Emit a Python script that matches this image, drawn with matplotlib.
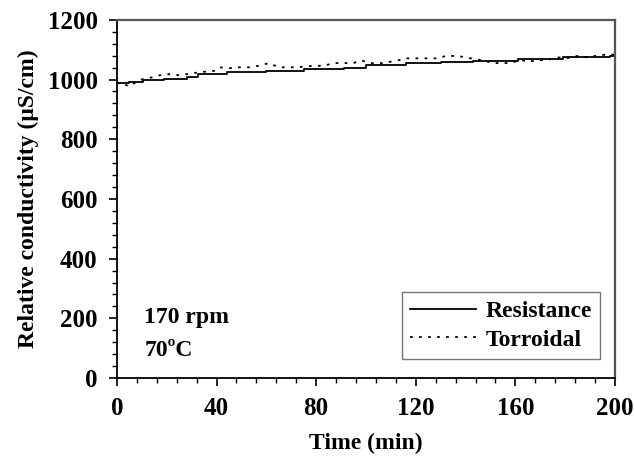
import matplotlib.pyplot as plt
from matplotlib.ticker import MultipleLocator

plt.rcParams['font.family'] = 'Liberation Serif'
plt.rcParams['font.weight'] = 'bold'

# Resistance probe (step-like readings)
t_res = [0, 5, 10.5, 19, 28, 32.5, 44, 60, 75, 91, 100, 116, 130, 143, 161, 179, 198, 200]
c_res = [988, 991, 997, 1002, 1010, 1018, 1026, 1030, 1035, 1040, 1049, 1055, 1060, 1062, 1068, 1074, 1079, 1080]

# Toroidal probe
t_tor = [0, 1, 5, 9, 13, 17, 21, 25, 28, 32, 35, 39, 41, 45, 49, 53, 57, 61, 65, 72,
         79, 83, 87, 95, 98, 102, 107, 110, 114, 116, 122, 125, 129, 132, 137, 140,
         147, 151, 158, 162, 165, 169, 173, 177, 181, 185, 189, 192, 196, 200]
c_tor = [985, 990, 977, 999, 1005, 1014, 1018, 1014, 1018, 1023, 1026, 1029, 1041, 1038, 1041, 1041, 1046, 1055, 1041, 1041,
         1046, 1046, 1055, 1055, 1064, 1055, 1055, 1060, 1066, 1071, 1071, 1071, 1071, 1079, 1079, 1074,
         1064, 1055, 1055, 1066, 1060, 1064, 1066, 1074, 1072, 1079, 1074, 1079, 1083, 1083]

fig = plt.figure(figsize=(6.34, 4.61), dpi=100)
ax = fig.add_axes([0.1845, 0.180, 0.7855, 0.777])

ax.plot(t_res, c_res, color='black', linewidth=1.3, drawstyle='steps-post', label='Resistance')
ax.plot(t_tor, c_tor, color='black', linewidth=1.3, linestyle=(0, (1.5, 3.5)), label='Torroidal')

ax.set_xlim(0, 200)
ax.set_ylim(0, 1200)
ax.xaxis.set_major_locator(MultipleLocator(40))
ax.xaxis.set_minor_locator(MultipleLocator(8))
ax.yaxis.set_major_locator(MultipleLocator(200))
ax.yaxis.set_minor_locator(MultipleLocator(40))
ax.tick_params(which='major', direction='out', length=6, width=1.2, labelsize=18, pad=8)
ax.tick_params(which='minor', direction='out', length=3.5, width=1.0)

for s in ['left', 'bottom']:
    ax.spines[s].set_linewidth(1.3)
for s in ['top', 'right']:
    ax.spines[s].set_color('#555555')
    ax.spines[s].set_linewidth(1.6)

ax.set_xlabel('Time (min)', fontsize=17, fontweight='bold', labelpad=9)
ax.set_ylabel('Relative conductivity (\u03bcS/cm)', fontsize=17, fontweight='bold', labelpad=6)

ax.text(11, 185, '170 rpm', fontsize=17, fontweight='bold')
ax.text(11, 75, '70\u00baC', fontsize=17, fontweight='bold')

leg = ax.legend(loc='lower right', bbox_to_anchor=(0.98, 0.04), fontsize=17, frameon=True,
                fancybox=False, edgecolor='#555555', handlelength=2.8, borderpad=0.35,
                labelspacing=0.3, handletextpad=0.4, borderaxespad=0.2)
leg.get_frame().set_linewidth(1.0)

fig.savefig('out.png', dpi=100)
